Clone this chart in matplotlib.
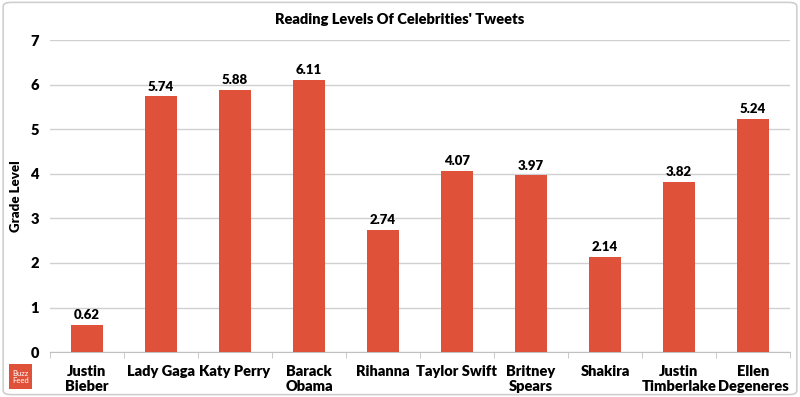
import matplotlib.pyplot as plt
import numpy as np
from matplotlib.patches import FancyBboxPatch

plt.rcParams['font.family'] = ['Lato', 'DejaVu Sans']
plt.rcParams['font.weight'] = 'bold'

# data
names = ['Justin\nBieber', 'Lady Gaga', 'Katy Perry', 'Barack\nObama', 'Rihanna',
         'Taylor Swift', 'Britney\nSpears', 'Shakira', 'Justin\nTimberlake', 'Ellen\nDegeneres']
levels = [0.62, 5.74, 5.88, 6.11, 2.74, 4.07, 3.97, 2.14, 3.82, 5.24]

bar_color = '#E0513A'

fig = plt.figure(figsize=(8, 3.97), dpi=100)
ax = fig.add_axes([0.0625, 0.113, 0.925, 0.786])

x = np.arange(len(names))
ax.bar(x, levels, width=0.42, color=bar_color, zorder=3)
for xi, v in zip(x, levels):
    ax.text(xi, v + 0.08, f'{v:.2f}', ha='center', va='bottom', fontsize=9.5, fontweight='heavy')

ax.set_xlim(-0.5, len(names) - 0.5)
ax.set_ylim(0, 7)
ax.set_yticks(range(0, 8))
ax.yaxis.grid(True, color='#d0d0d0', linewidth=1, zorder=0)
ax.set_xticks(x)
ax.set_xticklabels(names, fontsize=10.5, fontweight='heavy', linespacing=1.2)
ax.set_xticks(np.arange(-0.5, len(names)), minor=True)
ax.tick_params(axis='x', which='major', length=0, pad=9)
ax.tick_params(axis='x', which='minor', length=4, color='#c0c0c0')
ax.tick_params(axis='y', length=0, labelsize=10.5, pad=8)
for lab in ax.get_yticklabels():
    lab.set_fontweight('heavy')
for s in ['top', 'right', 'left']:
    ax.spines[s].set_visible(False)
ax.spines['bottom'].set_color('#c0c0c0')

ax.set_ylabel('Grade Level', fontsize=9.5, fontweight='heavy', labelpad=6)
fig.text(0.5, 0.952, "Reading Levels Of Celebrities' Tweets", ha='center', va='center',
         fontsize=10.5, fontweight='heavy')

# figure border
fig.patches.append(FancyBboxPatch((0.004, 0.006), 0.992, 0.988, boxstyle='round,pad=0,rounding_size=0.01',
                                  transform=fig.transFigure, fill=False, edgecolor='#cfcfcf', linewidth=1.2))

# buzzfeed logo
fig.patches.append(FancyBboxPatch((0.011, 0.02), 0.029, 0.062, boxstyle='square,pad=0',
                                  transform=fig.transFigure, facecolor=bar_color, edgecolor='none'))
fig.text(0.0255, 0.051, 'Buzz\nFeed', ha='center', va='center', fontsize=5.5, color='white',
         fontweight='normal', linespacing=1.0)

fig.savefig('out.png', dpi=100)
